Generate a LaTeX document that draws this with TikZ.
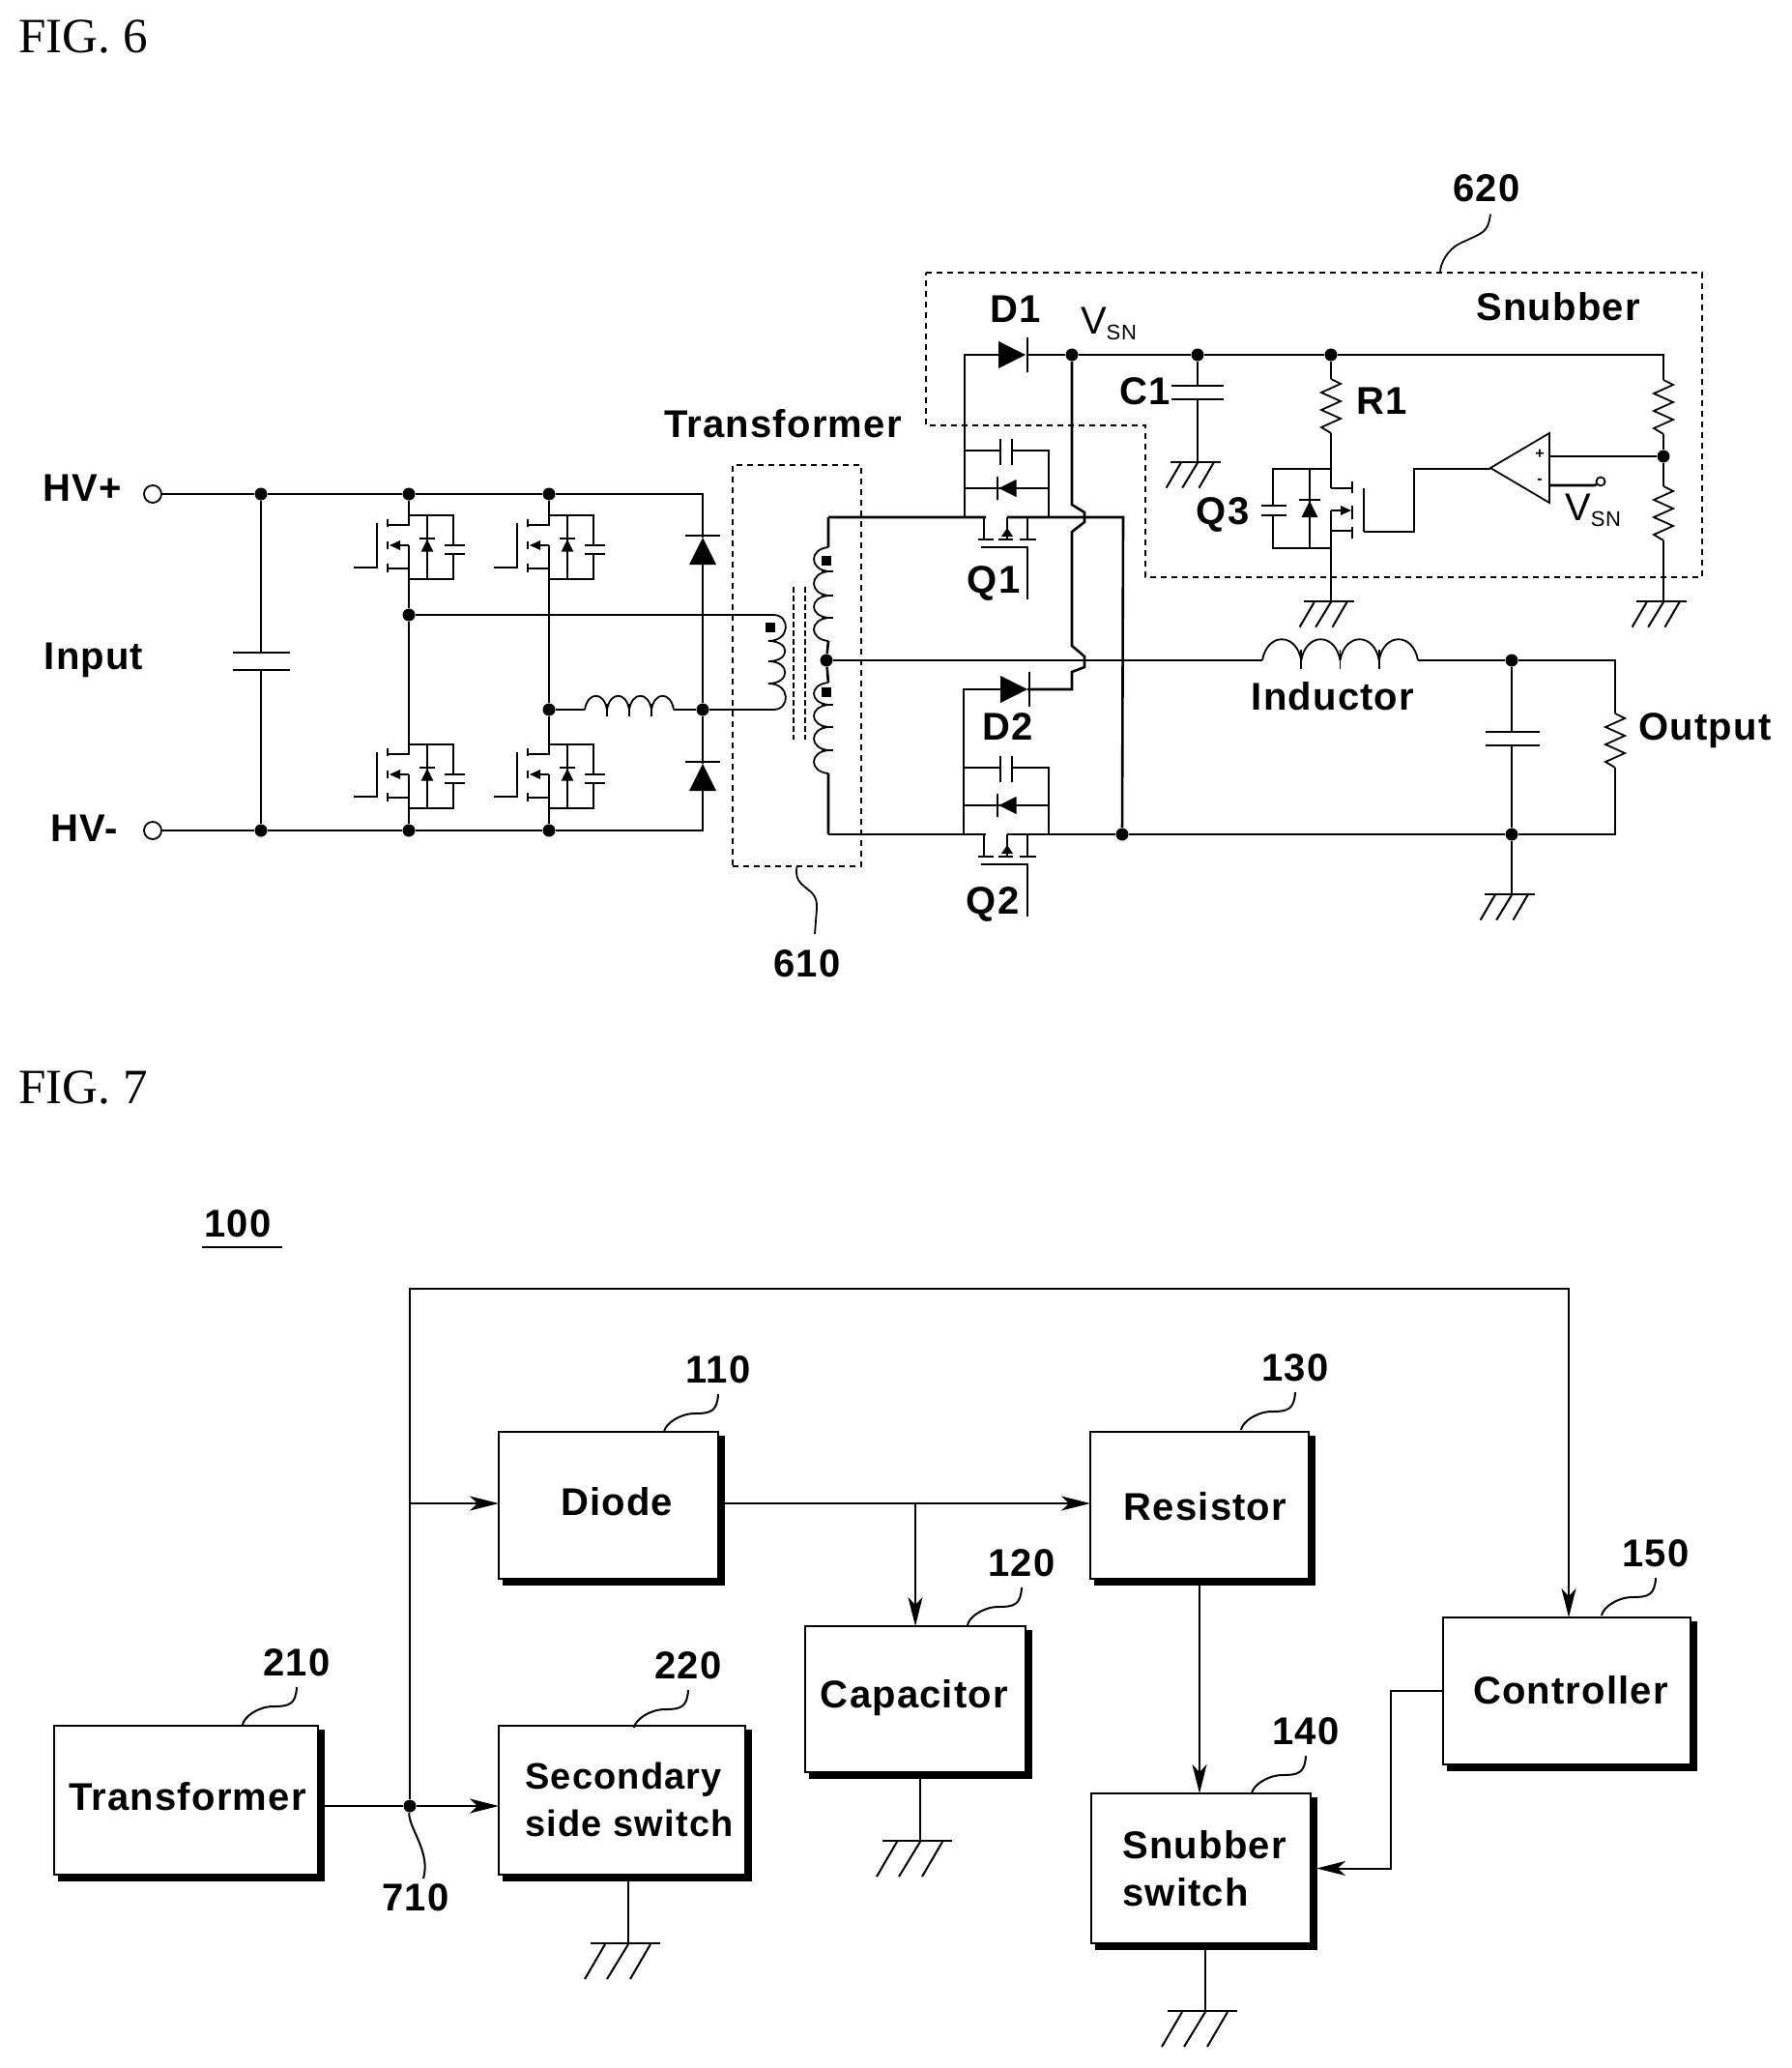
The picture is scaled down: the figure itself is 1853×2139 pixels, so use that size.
\documentclass[tikz,border=0pt]{standalone}
\usepackage{fontspec}
\setmainfont[LetterSpace=3]{Liberation Sans}
\newfontfamily\figfont{Liberation Serif}
\usetikzlibrary{arrows.meta,shadows}

\tikzset{
  wire/.style={line width=1.3pt, line join=miter},
  thinwire/.style={line width=0.9pt},
  ln/.style={line width=1pt},
  dbox/.style={line width=0.9pt, dash pattern=on 3pt off 2.5pt},
  lbl/.style={font=\bfseries\fontsize{20}{24.5}\selectfont, inner sep=0pt},
  figlbl/.style={font=\figfont\fontsize{25.5}{30}\selectfont, inner sep=0pt, anchor=west},
  jdot/.style={circle, fill=black, inner sep=0pt, minimum size=6.5pt},
  sqdot/.style={rectangle, fill=black, inner sep=0pt, minimum size=5pt},
  term/.style={circle, draw, line width=0.9pt, inner sep=0pt, minimum size=9pt},
  block/.style={draw, line width=1.2pt, fill=white, inner sep=0pt, outer sep=0pt, anchor=north west,
    copy shadow={shadow xshift=2.8pt, shadow yshift=-2.8pt, fill=black, draw=black}},
  gnd/.pic={
    \draw[ln] (-39,0) -- (33,0);
    \draw[ln] (-24,1) -- (-45,37);
    \draw[ln] (0,1) -- (-22,37);
    \draw[ln] (23,1) -- (2,37);
  },
  dio/.pic={
    \draw[ln] (-18,0) -- (18,0);
    \fill (0,2) -- (14,30) -- (-14,30) -- cycle;
  },
  zig/.pic={
    \draw[thinwire] (0,0) -- (10,5) -- (-10,14) -- (10,23) -- (-10,32) -- (10,41) -- (-10,50) -- (0,56);
  },
  fet/.pic={
    \draw[thinwire] (0,0) -- (46,0) -- (46,31);
    \draw[thinwire] (37,31) -- (58,31) (37,40) -- (58,40);
    \draw[thinwire] (46,40) -- (46,66) -- (0,66);
    \draw[thinwire] (19,0) -- (19,66);
    \pic[scale=.45] at (19,24) {dio};
    \draw[thinwire] (0,0) -- (0,10) -- (-22,10);
    \draw[thinwire] (-22,4) -- (-22,12) (-22,27) -- (-22,35) (-22,50) -- (-22,59);
    \draw[thinwire] (0,31) -- (-10,31) (-22,55) -- (0,55);
    \fill (-20,31) -- (-9,26) -- (-9,36) -- cycle;
    \draw[thinwire] (0,31) -- (0,66);
    \draw[thinwire] (-33,8) -- (-33,54) -- (-57,54);
  },
  qsw/.pic={
    \draw[thinwire] (0,-69) -- (38,-69) (50,-69) -- (88,-69) -- (88,0);
    \draw[thinwire] (38,-81) -- (38,-54) (50,-81) -- (50,-54);
    \draw[thinwire] (0,-30) -- (88,-30);
    \pic[rotate=90,scale=.65] at (35,-30) {dio};
    \draw[thinwire] (21,0) -- (21,23) (66,0) -- (66,23) (45,0) -- (45,23);
    \draw[thinwire] (15,23) -- (31,23) (36,23) -- (51,23) (58,23) -- (75,23);
    \fill (45,11) -- (39,20) -- (51,20) -- cycle;
    \draw[thinwire] (18,31) -- (66,31) -- (66,85);
  },
}

\begin{document}
\begin{tikzpicture}[x=0.5pt, y=-0.5pt, >={Stealth[length=15pt,width=7.5pt,inset=4pt]}]
\useasboundingbox (0,0) rectangle (1853,2139);

\node [figlbl] (fig6) at (19,38) {FIG. 6};
\node [figlbl] (fig7) at (19,1125) {FIG. 7};

% text of the circuit
\foreach \nm/\x/\y/\t in {hvp-t/85/505/HV+, hvm-t/87/857/HV-, input-t/97/683/Input,
    trafo-t/810/438/Transformer, n610/835/997/610, n620/1538/195/620, snub-t/1612/317/Snubber,
    d1-t/1051/320/D1, d2-t/1043/752/D2, c1-t/1185/405/C1, r1-t/1430/415/R1, q1-t/1028/603/Q1,
    q2-t/1027/935/Q2, q3-t/1265/532/Q3, ind-t/1379/720/Inductor, out-t/1764/756/Output}
  \node [lbl] (\nm) at (\x,\y) {\t};
\node [lbl] (vsn1) at (1147,335) {\mdseries V\raisebox{-3pt}{\fontsize{11}{11}\selectfont SN}};
\node [lbl] (vsn2) at (1648,528) {\mdseries V\raisebox{-3pt}{\fontsize{11}{11}\selectfont SN}};

% junctions
\node [term] (hvp) at (158,511) {};
\node [term] (hvm) at (158,859) {};
\foreach \nm/\x/\y in {c1/270/511, a1/423/511, b1/568/511, c2/270/859, a2/423/859, b2/568/859,
    am/423/636, bm/568/734, dm/727/734, ctr/855/683, sn/1109/367, cs/1239/367, rs/1377/367,
    dv/1721/472, dq/1161/863, o1/1564/683, o2/1564/863}
  \node [jdot] (\nm) at (\x,\y) {};

% input side
\draw [wire] (hvp) -- (c1) -- (a1) -- (b1) -- (727,511) -- (727,556);
\draw [wire] (hvm) -- (c2) -- (a2) -- (b2) -- (727,859) -- (727,818);
\draw [wire] (727,584) -- (dm) -- (727,790);
\pic at (727,554) {dio};
\pic at (727,788) {dio};
\draw [wire] (c1) -- (270,675) (241,675) -- (300,675);
\draw [wire] (c2) -- (270,693) (241,693) -- (300,693);
\foreach \x/\y in {423/533, 568/533, 423/770, 568/770}
  \pic at (\x,\y) {fet};
\draw [wire] (a1) -- (423,533) (423,599) -- (am) -- (423,770) (423,835) -- (a2);
\draw [wire] (b1) -- (568,533) (568,599) -- (bm) -- (568,770) (568,835) -- (b2);
\draw [wire] (bm) -- (605,734);
\foreach \a in {0,1,2,3}
  \draw [thinwire] (605+\a*23,734) .. controls +(3,-19) and +(-3,-19) .. +(23,0);
\foreach \a in {1,2,3}
  \draw [thinwire] (605+\a*23,728) -- (605+\a*23,741);
\draw [wire] (697,734) -- (dm);

% transformer
\node [draw, dbox, inner sep=0pt, minimum width=66.5pt, minimum height=207.5pt, anchor=north west] (trafo) at (757,480) {};
\draw [wire] (am) -- (800,636);
\draw [thinwire] (800,636) .. controls (818,636) and (818,663) .. (795,663);
\draw [thinwire] (795,663) .. controls (818,663) and (818,684) .. (795,684);
\draw [thinwire] (795,684) .. controls (818,684) and (818,707) .. (795,707);
\draw [thinwire] (795,707) .. controls (818,707) and (818,734) .. (800,734);
\draw [wire] (800,734) -- (dm);
\node [sqdot] (dot-p) at (797,649) {};
\draw [line width=1.3pt, dash pattern=on 3pt off 1.5pt] (821,607) -- (821,765) (833,607) -- (833,765);
\draw [wire] (857,535) -- (857,566) (857,663) -- (ctr) -- (857,706) (857,800) -- (857,863);
\foreach \y/\e in {566/591, 591/616, 616/639, 639/663, 706/729, 729/752, 752/776, 776/800}
  \draw [thinwire] (857,\y) .. controls +(-20,2) and +(-20,-2) .. (857,\e);
\foreach \e in {591,616,639,729,752,776}
  \draw [thinwire] (850,\e) -- (862,\e);
\node [sqdot] (dot-s1) at (855,580) {};
\node [sqdot] (dot-s2) at (855,716) {};
\draw [thinwire] (trafo.south) ++(0,0) .. controls +(-4,25) and +(2,-25) .. (845,940) -- (843,966);

% rectifier
\draw [wire] (857,535) -- (1020,535) (1042,535) -- (1162,535) -- (dq);
\draw [wire] (857,863) -- (1020,863) (1042,863) -- (dq) -- (o2) -- (1671,863) -- (1671,794);
\pic at (997,535) {qsw};
\pic at (997,863) {qsw};
\draw [wire] (998,535) -- (998,367) -- (1033,367);
\pic [rotate=-90] at (1063,367) {dio};
\draw [wire] (1063,367) -- (sn) -- (cs) -- (rs) -- (1721,367) -- (1721,393);
\draw [wire] (sn) -- (1109,522) -- (1122,530) -- (1122,540) -- (1109,550) -- (1109,668)
  -- (1122,679) -- (1122,690) -- (1109,695) -- (1109,713) -- (1063,713);
\pic [rotate=-90] at (1065,713) {dio};
\draw [wire] (1035,713) -- (997,713) -- (997,863);

% output side
\draw [wire] (ctr) -- (1306,683);
\foreach \a in {0,1,2,3}
  \draw [thinwire] (1306+\a*40.25,683) .. controls +(5,-29) and +(-5,-29) .. +(40.25,0);
\foreach \a in {1,2,3}
  \draw [thinwire] (1306+\a*40.25,672) -- (1306+\a*40.25,692);
\draw [wire] (1467,683) -- (o1) -- (1671,683) -- (1671,738);
\pic at (1671,738) {zig};
\draw [wire] (o1) -- (1564,757) (1537,757) -- (1593,757);
\draw [wire] (1537,771) -- (1593,771) (1564,771) -- (o2) -- (1564,925);

% snubber
\draw [dbox] (958,282) -- (1761,282) -- (1761,597) -- (1185,597) -- (1185,440) -- (958,440) -- cycle;
\draw [thinwire] (n620.south) ++(4,12) .. controls +(-3,20) and +(25,-12) .. (1510,252) .. controls +(-12,6) and +(0,-10) .. (1490,282);
\draw [wire] (cs) -- (1239,399) (1212,399) -- (1266,399);
\draw [wire] (1212,413) -- (1266,413) (1239,413) -- (1239,478);
\draw [wire] (rs) -- (1377,392);
\pic at (1377,392) {zig};
\draw [wire] (1377,448) -- (1377,505);
\draw [thinwire] (1377,485) -- (1317,485) -- (1317,523);
\draw [thinwire] (1305,523) -- (1331,523) (1305,533) -- (1331,533);
\draw [thinwire] (1317,533) -- (1317,567) -- (1377,567);
\draw [thinwire] (1355,485) -- (1355,567);
\pic [scale=.6] at (1355,517) {dio};
\draw [thinwire] (1377,505) -- (1399,505) (1399,498) -- (1399,510) (1399,523) -- (1399,537) (1399,545) -- (1399,557);
\draw [thinwire] (1377,528) -- (1388,528) (1377,549) -- (1399,549);
\fill (1398,528) -- (1387,523) -- (1387,533) -- cycle;
\draw [wire] (1377,528) -- (1377,622);
\draw [thinwire] (1411,505) -- (1411,550);
\draw [wire] (1411,550) -- (1463,550) -- (1463,485) -- (1542,485);
\draw [thinwire] (1542,484) -- (1603,448) -- (1603,520) -- cycle;
\node [inner sep=0pt, font=\bfseries\fontsize{8}{8}\selectfont] (op-p) at (1593,470) {+};
\node [inner sep=0pt, font=\bfseries\fontsize{8}{8}\selectfont] (op-m) at (1593,498) {-};
\draw [wire] (1603,472) -- (dv);
\node [circle, draw, thinwire, inner sep=0pt, minimum size=4.5pt] (vsn-in) at (1656,498) {};
\draw [wire] (1603,502) -- (1650,502) -- (vsn-in);
\pic at (1721,393) {zig};
\draw [wire] (1721,449) -- (dv) -- (1721,503);
\pic at (1721,503) {zig};
\draw [wire] (1721,559) -- (1721,622);
\foreach \x/\y in {1239/478, 1377/622, 1721/622, 1564/925}
  \pic [scale=.72] at (\x,\y) {gnd};

% blocks of fig 7
\foreach \nm/\x/\y/\w/\h in {xfmr/56/1785/273/154, sec/516/1785/255/154, diode/516/1481/227/152,
    cap/833/1682/228/151, res/1128/1481/226/152, snub/1129/1855/227/155, ctrl/1493/1673/256/152}
  \node [block, minimum width=\w*0.5pt, minimum height=\h*0.5pt] (\nm) at (\x,\y) {};

\foreach \nm/\x/\y/\t in {xfmr-t/194/1858/Transformer, diode-t/638/1553/Diode, cap-t/946/1756/Capacitor,
    res-t/1247/1558/Resistor, ctrl-t/1625/1748/Controller}
  \node [lbl] (\nm) at (\x,\y) {\t};
\node [lbl, align=left, anchor=west, font=\bfseries\fontsize{19}{24.5}\selectfont] (sec-t) at (543,1861) {Secondary\\side switch};
\node [lbl, align=left, anchor=west] (snub-t2) at (1161,1933) {Snubber\\switch};

% reference numbers of fig 7
\node [lbl] (n100) at (246,1266) {100};
\draw [ln] (209,1290) -- (292,1290);
\foreach \nm/\x/\y in {110/743/1417, 120/1057/1617, 130/1340/1415, 140/1351/1791, 150/1713/1607, 210/307/1720, 220/712/1723} {
  \node [lbl] (n\nm) at (\x,\y) {\nm};
  \draw [ln] (\x,\y+25) .. controls +(-1,18) and +(16,0) .. +(-24,20)
    .. controls +(-16,0) and +(1,-8) .. (\x-56,\y+64);
}
\node [lbl] (n710) at (430,1963) {710};
\node [jdot] (tap) at (424,1868) {};
\draw [ln] (tap) .. controls (422,1890) and (446,1915) .. (438,1943);

% connections of fig 7
\coordinate (intap) at (424,1555);
\coordinate (captap) at (947,1555);
\coordinate (ctop) at (1623,1333);
\draw [ln] (xfmr.east |- tap) -- (tap);
\draw [ln, ->] (tap) -- (sec.west |- tap);
\draw [ln, ->] (intap) -- (diode.west |- intap);
\draw [ln, ->] (tap) |- (ctop) -- (ctop |- ctrl.north);
\draw [ln, ->] (diode.east |- intap) -- (res.west |- intap);
\draw [ln, ->] (captap) -- (captap |- cap.north);
\draw [ln, ->] (res.south) -- (res.south |- snub.north);
\draw [ln, ->] (ctrl.west) -- ++(-54,0) |- ([xshift=3pt]snub.east);

% grounds of fig 7
\coordinate (g-sec) at (650,2010);
\coordinate (g-cap) at (952,1904);
\coordinate (g-snub) at (1247,2080);
\foreach \g/\b in {g-sec/sec, g-cap/cap, g-snub/snub} {
  \draw [ln] (\g |- \b.south) -- (\g);
  \pic at (\g) {gnd};
}

\end{tikzpicture}
\end{document}
